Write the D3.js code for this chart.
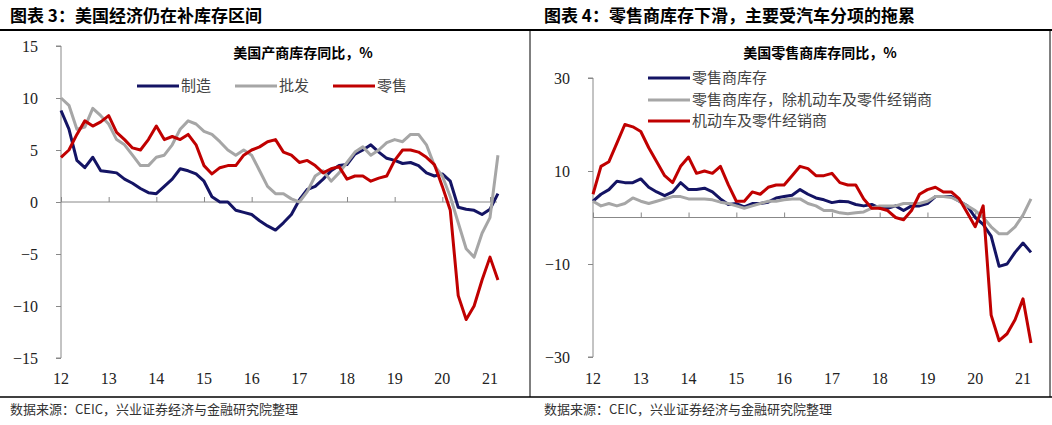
<!DOCTYPE html>
<html><head><meta charset="utf-8">
<script src="https://cdn.jsdelivr.net/npm/d3@7"></script>
<style>
body{margin:0;background:#fff}
text{font-family:"Liberation Serif","Noto Sans CJK SC",serif}
text.num{font-family:"Liberation Serif","Times New Roman",serif !important}
.cjk{font-family:"Noto Sans CJK SC",sans-serif}
</style></head>
<body><svg id="chart" width="1052" height="425"></svg>
<script>
// bimonthly points, Jan 2012 .. Mar 2021
const startYear = 2012;
const yearTicks = ["12","13","14","15","16","17","18","19","20","21"];

const manuf = [8.8,7,4,3.3,4.3,3, 2.9,2.8,2.2,1.8,1.3,0.9, 0.8,1.5,2.2,3.2,3,2.7, 2,0.5,0,0,-0.8,-1,
  -1.2,-1.8,-2.3,-2.7,-2,-1.2, 0.2,1.2,1.5,2.2,3,3.5, 3.6,4.6,5,5.5,4.8,4.2, 4,3.7,3.8,3.5,2.8,2.5,
  2.7,2,-0.5,-0.7,-0.8,-1.2, -0.7,0.8];
const wholesale = [10,9.3,7,7.2,9,8.3, 7.5,6,5.5,4.5,3.5,3.5, 4.3,4.5,5.5,7,7.8,7.5, 6.8,6.5,5.8,5,4.5,5,
  4.5,3,1.5,0.8,0.8,0.3, 0,1,2.5,3,2,2.8, 3.8,4.8,5.3,4.5,5,5.7, 6,5.8,6.5,6.5,5.5,3.5,
  2.5,0.5,-2,-4.5,-5.3,-3, -1.5,4.5];
const retail = [4.3,5,6.5,7.8,7.3,7.7, 8.3,6.7,6,5.2,5,6, 7.3,6,6.3,6,6.5,5.5, 3.5,2.7,3.3,3.5,3.5,4.5,
  5,5.3,5.8,6,4.8,4.5, 3.8,4,3.5,2.8,3.2,3.4, 2.2,2.5,2.5,2,2.3,2.5, 4,5,5,4.8,4.3,3.6,
  1.5,-0.8,-9,-11.3,-10,-7.5, -5.3,-7.5];

const rTotal = [3.5,5,6,7.8,7.5,7.5, 8.3,6.5,5.5,4.7,5.5,7.5, 6,6,6.3,5.5,4,2.8, 3,2.3,3,3,3.3,4.2,
  4.5,4.8,6,5,4.2,3.8, 3.2,3.5,3.4,2.8,2.5,2.8, 2,2,2.5,1.5,2.5,2.5, 3,4.5,4.5,4.5,3.5,2.5,
  0,-1.5,-4,-10.5,-10,-7.5, -5.5,-7.5];
const rExAuto = [3.5,2.5,3,2.5,3,4.2, 3.5,3,3.5,4,4.5,4.5, 4,4,4,3.8,3.3,3, 2.5,2,2.5,3,3.5,3.5,
  3.8,4,4,3,2.5,1.5, 1.5,1,0.8,1,1.2,2, 2.5,2.5,2.5,3,3,3, 3.5,4.5,4.5,4.3,3.5,2.5,
  1.5,0,-2,-3.5,-3.5,-2, 0.5,4];
const rAuto = [5,11,12,16,20,19.5, 18.5,15,12,9,7.5,11, 13,9.5,10,9.5,11,7, 3.5,3.5,5.5,5,6.5,7,
  7,9,11,10.5,9,9, 9.5,7.5,7,7,4,2, 2,1.5,0,-0.5,1.5,5, 6,6.5,5.5,5.5,4,1,
  -2,2.5,-21,-26.5,-25,-22, -17.5,-27];

const svg = d3.select("#chart");
const t = i => startYear + i / 6;

// frame lines
svg.append("line").attr("x1",0).attr("x2",1052).attr("y1",30).attr("y2",30).attr("stroke","#000").attr("stroke-width",2);
svg.append("line").attr("x1",0).attr("x2",1052).attr("y1",397).attr("y2",397).attr("stroke","#000").attr("stroke-width",1.5);
[530,1050].forEach(x => svg.append("line").attr("x1",x).attr("x2",x).attr("y1",30).attr("y2",397).attr("stroke","#000").attr("stroke-width",1));

function panel(o) {
  const g = svg.append("g");
  g.append("text").attr("class","cjk").attr("x",o.titleX).attr("y",22)
    .attr("font-size",17).attr("font-weight","bold").text(o.title);
  g.append("text").attr("class","cjk").attr("x",o.subX).attr("y",58).attr("text-anchor","middle")
    .attr("font-size",14).attr("font-weight","bold").text(o.sub);
  g.append("text").attr("class","cjk").attr("x",o.titleX).attr("y",414)
    .attr("font-size",13).attr("fill","#333").text("数据来源：CEIC，兴业证券经济与金融研究院整理");

  const x = d3.scaleLinear().domain([2012, 2021]).range(o.xr);
  const y = d3.scaleLinear().domain(o.yd).range(o.yr);

  const ya = g.append("g").attr("transform",`translate(${o.xr[0]},0)`)
    .call(d3.axisLeft(y).tickValues(o.yTicks).tickSize(5).tickPadding(18));
  ya.attr("font-family", null);
  ya.select(".domain").attr("stroke","#888").attr("d",`M-5,${o.yr[0]}H0V${o.yr[1]}H-5`);
  ya.selectAll("line").attr("stroke","#888");
  ya.selectAll("text").attr("class","num").attr("font-size",16).attr("fill","#222");

  const xa = g.append("g").attr("transform",`translate(0,${y(0)})`)
    .call(d3.axisBottom(x).tickValues(d3.range(2012,2022)).tickSize(-5).tickFormat(""));
  xa.select(".domain").attr("stroke","#888").attr("d",`M${o.xr[0]},0H${o.xEnd}`);
  xa.selectAll("line").attr("stroke","#888");
  g.selectAll(".yr").data(yearTicks).join("text").attr("class","yr num")
    .attr("x",(d,i) => x(2012+i)).attr("y",384).attr("text-anchor","middle")
    .attr("font-size",16).attr("fill","#222").text(d => d);

  const line = d3.line().x((d,i) => x(t(i))).y(d => y(d));
  o.series.forEach(s => g.append("path").datum(s.v).attr("d",line).attr("fill","none")
    .attr("stroke",s.c).attr("stroke-width",3).attr("stroke-linejoin","round"));

  o.series.forEach((s,i) => {
    const lx = o.leg[i][0], ly = o.leg[i][1];
    g.append("line").attr("x1",lx).attr("x2",lx+42).attr("y1",ly).attr("y2",ly).attr("stroke",s.c).attr("stroke-width",3);
    g.append("text").attr("class","cjk").attr("x",lx+44).attr("y",ly+5).attr("font-size",15).attr("fill","#444").text(s.n);
  });
}

panel({
  title:"图表 3：美国经济仍在补库存区间", titleX:10, sub:"美国产商库存同比，%", subX:303,
  xr:[61,490], xEnd:497, yd:[-15,15], yr:[358,46], yTicks:[-15,-10,-5,0,5,10,15],
  series:[{n:"制造",v:manuf,c:"#141464"},{n:"批发",v:wholesale,c:"#a6a6a6"},{n:"零售",v:retail,c:"#c00000"}],
  leg:[[137,86],[235,86],[333,86]]
});
panel({
  title:"图表 4：零售商库存下滑，主要受汽车分项的拖累", titleX:544, sub:"美国零售商库存同比，%", subX:820,
  xr:[593,1023], xEnd:1031, yd:[-30,30], yr:[357,78], yTicks:[-30,-10,10,30],
  series:[{n:"零售商库存",v:rTotal,c:"#141464"},{n:"零售商库存，除机动车及零件经销商",v:rExAuto,c:"#a6a6a6"},{n:"机动车及零件经销商",v:rAuto,c:"#c00000"}],
  leg:[[648,78],[648,100],[648,121]]
});
</script></body></html>
